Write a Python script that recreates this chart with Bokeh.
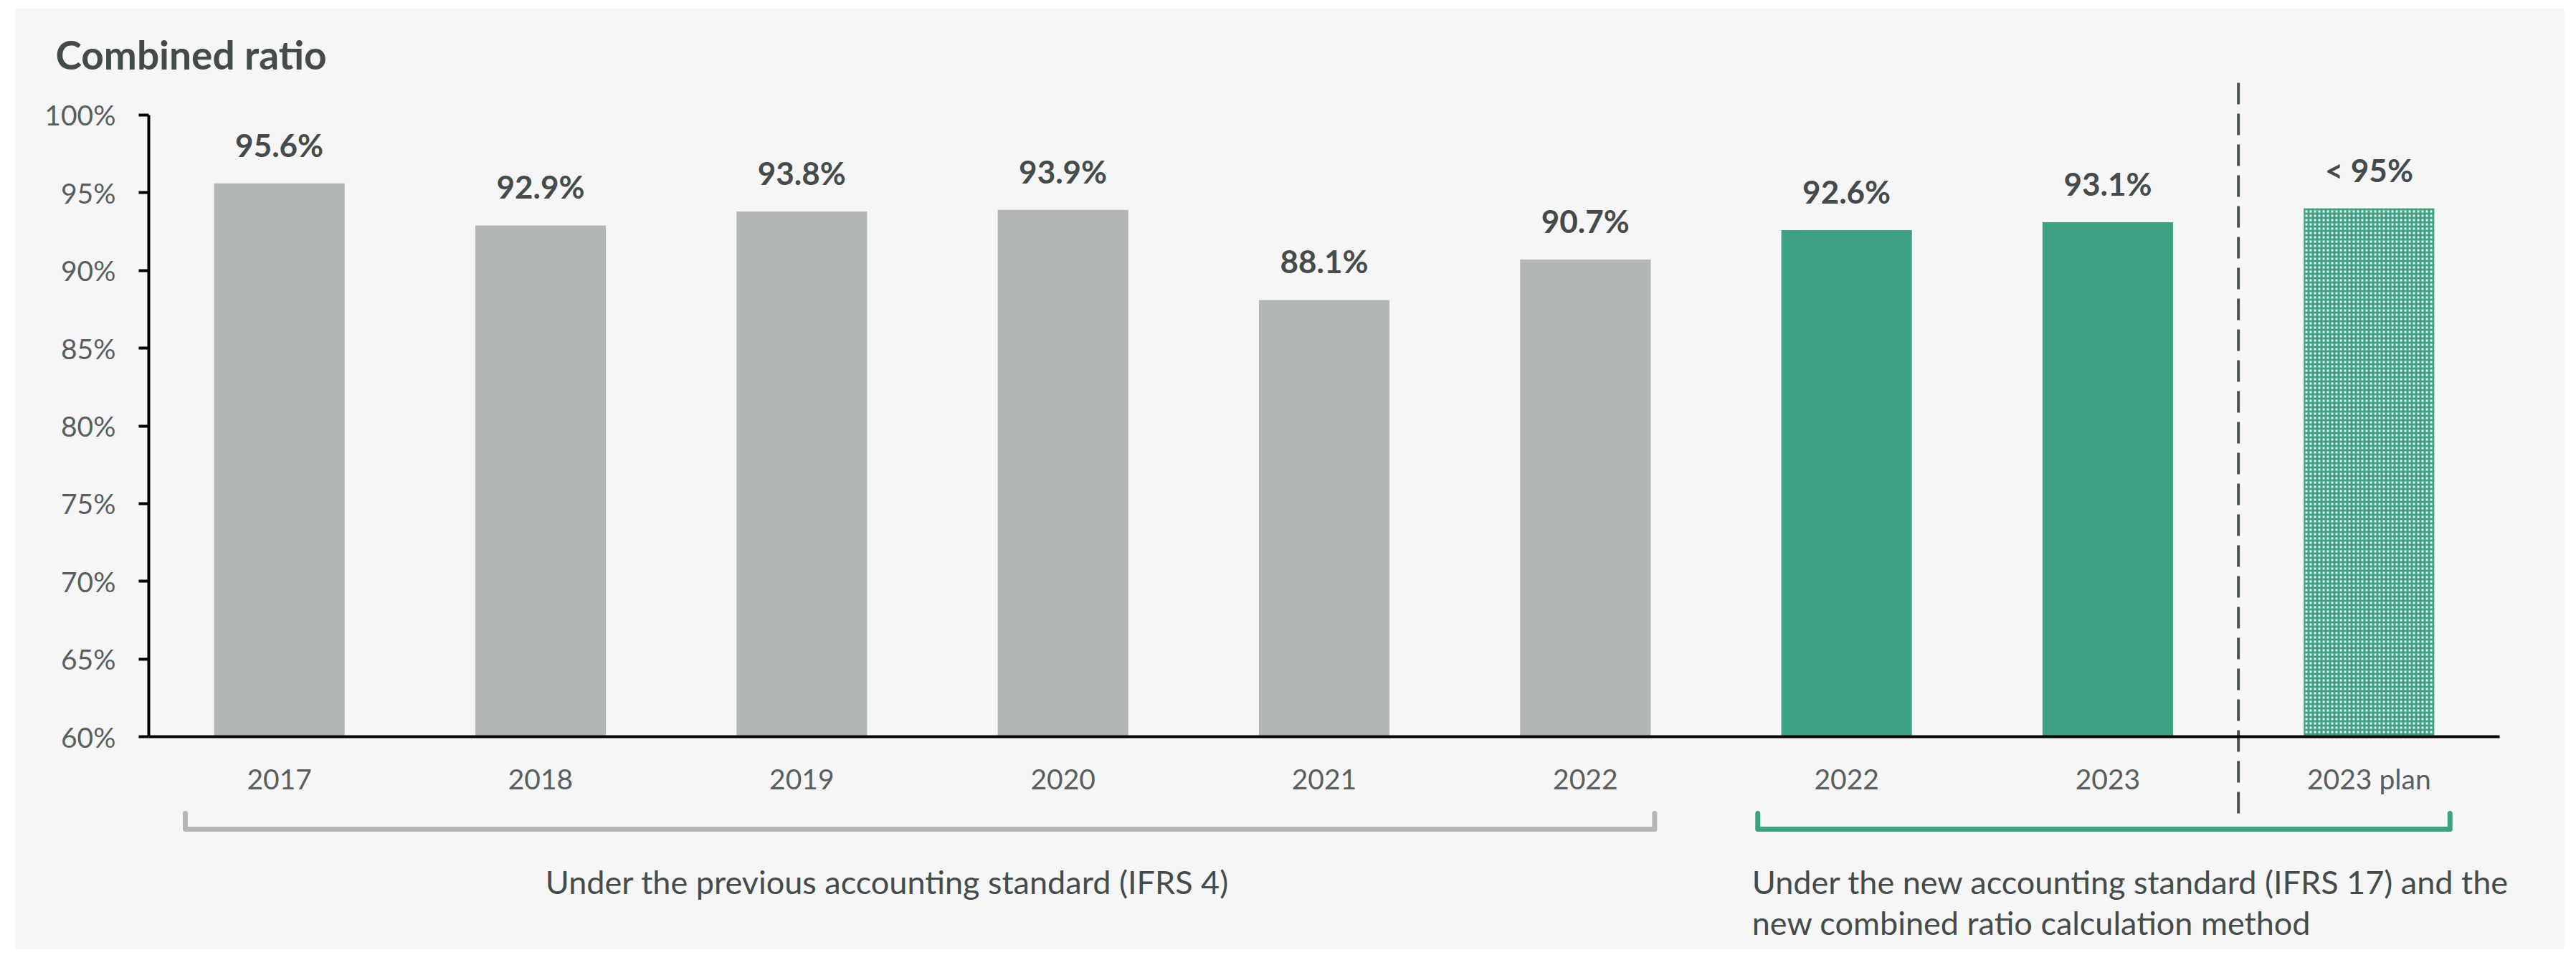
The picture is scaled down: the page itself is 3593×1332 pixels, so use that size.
from bokeh.plotting import figure
from bokeh.models import (ColumnDataSource, Range1d, LinearAxis, FixedTicker,
                          PrintfTickFormatter, LabelSet, Label)
from bokeh.embed import file_html
from bokeh.resources import INLINE
from bokeh.core.properties import value

# ---------------- data ----------------
categories = ["2017", "2018", "2019", "2020", "2021", "2022", "2022", "2023", "2023 plan"]
values = [95.6, 92.9, 93.8, 93.9, 88.1, 90.7, 92.6, 93.1, 94.0]
value_labels = ["95.6%", "92.9%", "93.8%", "93.9%", "88.1%", "90.7%", "92.6%", "93.1%", "< 95%"]
old_idx = [0, 1, 2, 3, 4, 5]      # IFRS 4
new_idx = [6, 7]                  # IFRS 17
plan_idx = [8]                    # plan
y_ticks = [60, 65, 70, 75, 80, 85, 90, 95, 100]
title_text = "Combined ratio"
old_note = "Under the previous accounting standard (IFRS 4)"
new_note = ["Under the new accounting standard (IFRS 17) and the",
            "new combined ratio calculation method"]

# ---------------- style ----------------
FONT = "Lato"
GRAY = "#B3B8B7"
GREEN = "#3DA283"
DARK = "#434B4B"
TICK = "#595E5E"
BG = "#F6F6F6"
BASE = 60
X0, X1 = -0.5, len(categories) - 0.5

p = figure(width=3577, height=1324,
           x_range=Range1d(-1.0105, 8.7471), y_range=Range1d(46.298, 106.874),
           output_backend="svg", toolbar_location=None,
           x_axis_location=None, y_axis_location=None,
           min_border_left=21, min_border_right=1,
           min_border_top=11, min_border_bottom=0,
           background_fill_color=BG, border_fill_color="white",
           outline_line_color=None)
p.grid.visible = False

yaxis = LinearAxis(ticker=FixedTicker(ticks=y_ticks),
                   formatter=PrintfTickFormatter(format="%d%%"),
                   fixed_location=X0,
                   bounds=(y_ticks[0], y_ticks[-1]),
                   axis_line_width=4, axis_line_color="black",
                   major_tick_line_width=4, major_tick_line_color="black",
                   major_tick_out=14, major_tick_in=0,
                   minor_tick_line_color=None,
                   major_label_standoff=32,
                   major_label_text_font=FONT,
                   major_label_text_font_size="39px",
                   major_label_text_color=TICK)
p.add_layout(yaxis, "left")

xaxis = LinearAxis(ticker=FixedTicker(ticks=list(range(len(categories)))),
                   major_label_overrides={i: c for i, c in enumerate(categories)},
                   fixed_location=BASE,
                   bounds=(X0, X1),
                   axis_line_width=4, axis_line_color="black",
                   major_tick_line_color=None, minor_tick_line_color=None,
                   major_tick_out=0, major_tick_in=0,
                   major_label_standoff=35,
                   major_label_text_font=FONT,
                   major_label_text_font_size="39px",
                   major_label_text_color=TICK)
p.add_layout(xaxis, "below")


def sub(idx):
    return ColumnDataSource(dict(x=idx, top=[values[i] for i in idx],
                                 label=[value_labels[i] for i in idx]))


p.vbar(x="x", top="top", bottom=BASE, width=0.5, source=sub(old_idx),
       fill_color=GRAY, line_color=None)
p.vbar(x="x", top="top", bottom=BASE, width=0.5, source=sub(new_idx),
       fill_color=GREEN, line_color=None)
p.vbar(x="x", top="top", bottom=BASE, width=0.5, source=sub(plan_idx),
       fill_color="white", line_color=None,
       hatch_pattern="cross", hatch_color=GREEN, hatch_scale=6, hatch_weight=3.2)

all_src = sub(list(range(len(categories))))
p.add_layout(LabelSet(x="x", y="top", text="label", source=all_src,
                      y_offset=37, text_align="center", text_baseline="alphabetic",
                      text_font=value(FONT), text_font_style="bold",
                      text_font_size=value("44px"), text_color=DARK))

# dashed separator between actuals and plan
sep_x = (new_idx[-1] + plan_idx[0]) / 2
p.segment(x0=[sep_x], y0=[55.06], x1=[sep_x], y1=[102.6],
          line_color="#4D5454", line_width=4, line_dash="30 13")

# brackets under the category groups
yb, yt = 54.05, 55.06
def bracket(i0, i1, pad_l, pad_r):
    x0, x1 = i0 - pad_l, i1 + pad_r
    return [x0, x0, x1, x1], [yt, yb, yb, yt]

gx, gy = bracket(old_idx[0], old_idx[-1], 0.36, 0.265)
nx, ny = bracket(new_idx[0], plan_idx[-1], 0.34, 0.31)
p.multi_line(xs=[gx], ys=[gy], line_color=GRAY, line_width=7,
             line_join="round", line_cap="round")
p.multi_line(xs=[nx], ys=[ny], line_color=GREEN, line_width=7,
             line_join="round", line_cap="round")

# texts
p.add_layout(Label(x=-0.857, y=103.92, text=title_text, text_font=FONT,
                   text_font_style="bold", text_font_size="55px",
                   text_color=DARK, text_baseline="alphabetic"))
p.add_layout(Label(x=2.327, y=50.68, text=old_note, text_font=FONT,
                   text_font_size="45px", text_color=DARK,
                   text_align="center", text_baseline="middle"))
for line, yy in zip(new_note, [50.68, 48.05]):
    p.add_layout(Label(x=5.638, y=yy, text=line, text_font=FONT,
                       text_font_size="45px", text_color=DARK,
                       text_align="left", text_baseline="middle"))

open("out.html", "w").write(file_html(p, INLINE))
